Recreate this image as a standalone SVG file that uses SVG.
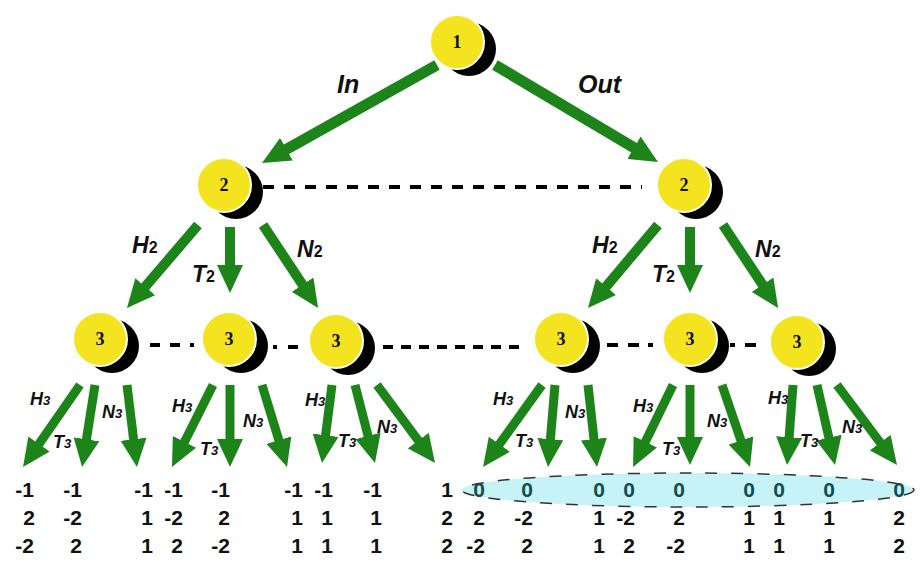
<svg xmlns="http://www.w3.org/2000/svg" width="921" height="562" viewBox="0 0 921 562">
  <defs>
    <marker id="head" markerUnits="userSpaceOnUse" viewBox="0 -13 28 26" markerWidth="28" markerHeight="26" refX="6" refY="0" orient="auto">
      <path d="M0,-13 L28,0 L0,13 Z" fill="#1d8419"/>
    </marker>
    <g id="ball">
      <circle cx="12" cy="7" r="27" class="shadow"/>
      <circle cx="0" cy="0" r="27" class="ball"/>
    </g>
  </defs>
  <style>
    .ball { fill: #f4e41f; stroke: #ffffff; stroke-width: 2; }
    .shadow { fill: #000000; }
    .num { font-family: "Liberation Serif", "Times New Roman", serif; font-weight: bold; font-size: 18px; fill: #111111; text-anchor: middle; }
    .arr { stroke: #1d8419; fill: none; stroke-linecap: butt; marker-end: url(#head); }
    .a1 { stroke-width: 11; }
    .a2 { stroke-width: 10; }
    .a3 { stroke-width: 9; }
    .lbl { font-family: "Liberation Sans", Arial, sans-serif; font-weight: bold; font-style: italic; fill: #111111; }
    .big { font-size: 25px; }
    .mid { font-size: 23px; }
    .sml { font-size: 18px; }
    .dash { stroke: #000000; stroke-width: 4; fill: none; }
    .val { font-family: "Liberation Sans", Arial, sans-serif; font-weight: bold; font-size: 21px; fill: #111111; text-anchor: end; }
    .zero { fill: #134d50; }
    .band { fill: #c6f3f8; stroke: #333333; stroke-width: 1.5; stroke-dasharray: 12 14; }
  </style>

  <rect width="921" height="562" fill="#ffffff"/>

  <!-- highlighted band behind the first row of the right half -->
  <ellipse class="band" cx="688" cy="490" rx="226" ry="17"/>

  <!-- dashed links between siblings -->
  <g id="siblings">
    <line class="dash" x1="263" y1="187" x2="642" y2="187" stroke-dasharray="11 10"/>
    <line class="dash" x1="150" y1="345" x2="181" y2="345" stroke-dasharray="10 10"/>
    <line class="dash" x1="190" y1="345" x2="194" y2="345"/>
    <line class="dash" x1="273" y1="347" x2="277" y2="347"/>
    <line class="dash" x1="288" y1="347" x2="298" y2="347"/>
    <line class="dash" x1="383" y1="347" x2="521" y2="347" stroke-dasharray="10 8"/>
    <line class="dash" x1="607" y1="345" x2="641" y2="345" stroke-dasharray="11 10"/>
    <line class="dash" x1="648" y1="345" x2="653" y2="345"/>
    <line class="dash" x1="730" y1="345" x2="735" y2="345"/>
    <line class="dash" x1="745" y1="345" x2="756" y2="345"/>
  </g>

  <!-- connectors -->
  <g id="connectors">
    <line class="arr a1" x1="437" y1="65" x2="281.2" y2="152.2"/>
    <line class="arr a1" x1="495" y1="65" x2="639.1" y2="150.8"/>

    <line class="arr a2" x1="198" y1="225" x2="141.3" y2="291.3"/>
    <line class="arr a2" x1="230" y1="227" x2="230" y2="271"/>
    <line class="arr a2" x1="263" y1="225" x2="305.9" y2="289.7"/>
    <line class="arr a2" x1="658" y1="225" x2="602.2" y2="291.2"/>
    <line class="arr a2" x1="690" y1="227" x2="690" y2="271"/>
    <line class="arr a2" x1="723" y1="225" x2="765.9" y2="289.7"/>

    <line class="arr a3" x1="80" y1="385" x2="35.6" y2="448.9"/>
    <line class="arr a3" x1="95" y1="385" x2="85.5" y2="445.3"/>
    <line class="arr a3" x1="127" y1="385" x2="134.3" y2="445.2"/>

    <line class="arr a3" x1="213" y1="385" x2="181.8" y2="447.3"/>
    <line class="arr a3" x1="230" y1="385" x2="230" y2="445"/>
    <line class="arr a3" x1="262" y1="385" x2="280.6" y2="445.9"/>

    <line class="arr a3" x1="332" y1="385" x2="324.8" y2="441.2"/>
    <line class="arr a3" x1="355" y1="385" x2="369.5" y2="441.7"/>
    <line class="arr a3" x1="377" y1="385" x2="421.9" y2="445.4"/>

    <line class="arr a3" x1="542" y1="385" x2="495.9" y2="449.1"/>
    <line class="arr a3" x1="555" y1="385" x2="549.9" y2="445.1"/>
    <line class="arr a3" x1="588" y1="385" x2="594.6" y2="445.1"/>

    <line class="arr a3" x1="673" y1="385" x2="642.7" y2="447.2"/>
    <line class="arr a3" x1="690" y1="385" x2="690" y2="443"/>
    <line class="arr a3" x1="722" y1="385" x2="742.9" y2="446.2"/>

    <line class="arr a3" x1="793" y1="385" x2="788.7" y2="443.1"/>
    <line class="arr a3" x1="817" y1="385" x2="830.2" y2="443.5"/>
    <line class="arr a3" x1="837" y1="385" x2="883.8" y2="447.4"/>
  </g>

  <!-- nodes -->
  <g id="node-1"><use href="#ball" x="457" y="42"/><text class="num" x="457" y="48">1</text></g>
  <g id="node-2a"><use href="#ball" x="224" y="185"/><text class="num" x="224" y="191">2</text></g>
  <g id="node-2b"><use href="#ball" x="684" y="185"/><text class="num" x="684" y="191">2</text></g>
  <g id="node-3a"><use href="#ball" x="100" y="339"/><text class="num" x="100" y="345">3</text></g>
  <g id="node-3b"><use href="#ball" x="229" y="339"/><text class="num" x="229" y="345">3</text></g>
  <g id="node-3c"><use href="#ball" x="336" y="341"/><text class="num" x="336" y="347">3</text></g>
  <g id="node-3d"><use href="#ball" x="561" y="339"/><text class="num" x="561" y="345">3</text></g>
  <g id="node-3e"><use href="#ball" x="690" y="339"/><text class="num" x="690" y="345">3</text></g>
  <g id="node-3f"><use href="#ball" x="797" y="342"/><text class="num" x="797" y="348">3</text></g>

  <!-- branch labels -->
  <g id="labels">
    <text class="lbl big" x="337" y="93">In</text>
    <text class="lbl big" x="578" y="93">Out</text>

    <text class="lbl mid" x="132" y="253">H<tspan font-size="16" font-style="normal">2</tspan></text>
    <text class="lbl mid" x="192" y="282">T<tspan font-size="16" font-style="normal">2</tspan></text>
    <text class="lbl mid" x="297" y="257">N<tspan font-size="16" font-style="normal">2</tspan></text>
    <text class="lbl mid" x="592" y="253">H<tspan font-size="16" font-style="normal">2</tspan></text>
    <text class="lbl mid" x="652" y="282">T<tspan font-size="16" font-style="normal">2</tspan></text>
    <text class="lbl mid" x="755" y="257">N<tspan font-size="16" font-style="normal">2</tspan></text>

    <text class="lbl sml" x="30" y="405">H<tspan font-size="13">3</tspan></text>
    <text class="lbl sml" x="53" y="448">T<tspan font-size="13">3</tspan></text>
    <text class="lbl sml" x="102" y="418">N<tspan font-size="13">3</tspan></text>

    <text class="lbl sml" x="172" y="412">H<tspan font-size="13">3</tspan></text>
    <text class="lbl sml" x="200" y="455">T<tspan font-size="13">3</tspan></text>
    <text class="lbl sml" x="243" y="427">N<tspan font-size="13">3</tspan></text>

    <text class="lbl sml" x="305" y="406">H<tspan font-size="13">3</tspan></text>
    <text class="lbl sml" x="338" y="447">T<tspan font-size="13">3</tspan></text>
    <text class="lbl sml" x="377" y="433">N<tspan font-size="13">3</tspan></text>

    <text class="lbl sml" x="493" y="405">H<tspan font-size="13">3</tspan></text>
    <text class="lbl sml" x="515" y="447">T<tspan font-size="13">3</tspan></text>
    <text class="lbl sml" x="565" y="418">N<tspan font-size="13">3</tspan></text>

    <text class="lbl sml" x="633" y="412">H<tspan font-size="13">3</tspan></text>
    <text class="lbl sml" x="662" y="455">T<tspan font-size="13">3</tspan></text>
    <text class="lbl sml" x="707" y="427">N<tspan font-size="13">3</tspan></text>

    <text class="lbl sml" x="768" y="404">H<tspan font-size="13">3</tspan></text>
    <text class="lbl sml" x="800" y="447">T<tspan font-size="13">3</tspan></text>
    <text class="lbl sml" x="842" y="433">N<tspan font-size="13">3</tspan></text>
  </g>

  <!-- leaf values, three rows per outcome -->
  <g id="values">
    <text class="val" x="34" y="497">-1</text><text class="val" x="35" y="525">2</text><text class="val" x="34" y="553">-2</text>
    <text class="val" x="82" y="497">-1</text><text class="val" x="82" y="525">-2</text><text class="val" x="82" y="553">2</text>
    <text class="val" x="153" y="497">-1</text><text class="val" x="153" y="525">1</text><text class="val" x="153" y="553">1</text>
    <text class="val" x="183" y="497">-1</text><text class="val" x="183" y="525">-2</text><text class="val" x="183" y="553">2</text>
    <text class="val" x="230" y="497">-1</text><text class="val" x="230" y="525">2</text><text class="val" x="230" y="553">-2</text>
    <text class="val" x="303" y="497">-1</text><text class="val" x="303" y="525">1</text><text class="val" x="303" y="553">1</text>
    <text class="val" x="333" y="497">-1</text><text class="val" x="333" y="525">1</text><text class="val" x="333" y="553">1</text>
    <text class="val" x="382" y="497">-1</text><text class="val" x="382" y="525">1</text><text class="val" x="382" y="553">1</text>
    <text class="val" x="453" y="497">1</text><text class="val" x="453" y="525">2</text><text class="val" x="453" y="553">2</text>

    <text class="val zero" x="485" y="497">0</text><text class="val" x="485" y="525">2</text><text class="val" x="485" y="553">-2</text>
    <text class="val zero" x="533" y="497">0</text><text class="val" x="533" y="525">-2</text><text class="val" x="533" y="553">2</text>
    <text class="val zero" x="605" y="497">0</text><text class="val" x="605" y="525">1</text><text class="val" x="605" y="553">1</text>
    <text class="val zero" x="635" y="497">0</text><text class="val" x="635" y="525">-2</text><text class="val" x="635" y="553">2</text>
    <text class="val zero" x="685" y="497">0</text><text class="val" x="685" y="525">2</text><text class="val" x="685" y="553">-2</text>
    <text class="val zero" x="755" y="497">0</text><text class="val" x="755" y="525">1</text><text class="val" x="755" y="553">1</text>
    <text class="val zero" x="785" y="497">0</text><text class="val" x="785" y="525">1</text><text class="val" x="785" y="553">1</text>
    <text class="val zero" x="835" y="497">0</text><text class="val" x="835" y="525">1</text><text class="val" x="835" y="553">1</text>
    <text class="val zero" x="905" y="497">0</text><text class="val" x="905" y="525">2</text><text class="val" x="905" y="553">2</text>
  </g>
</svg>
